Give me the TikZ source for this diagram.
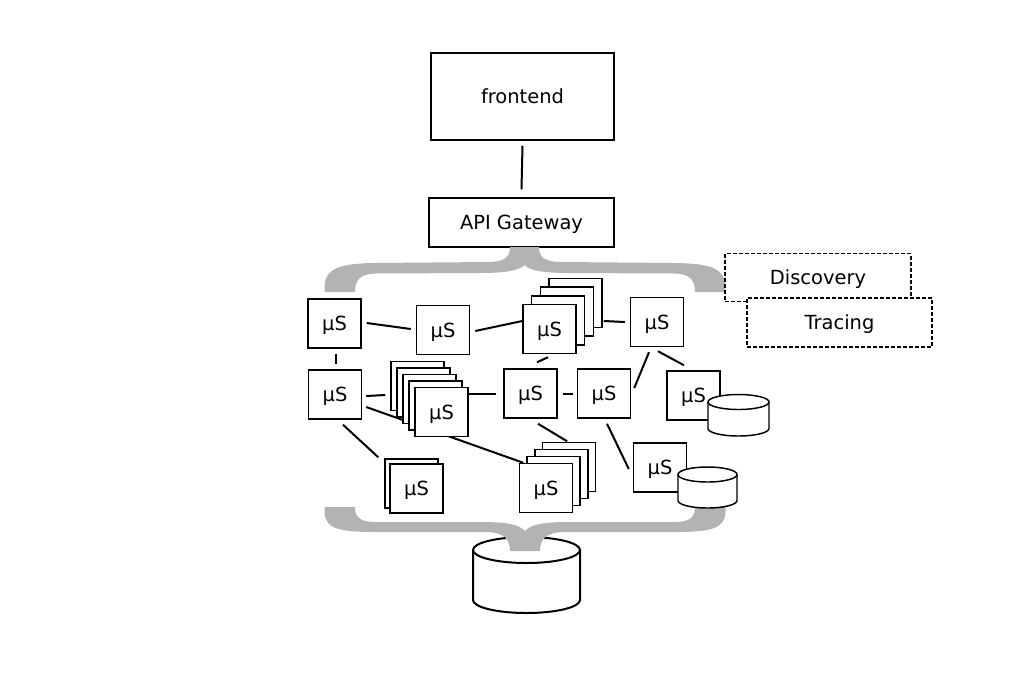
\documentclass[tikz,border=0pt]{standalone}
\usepackage{fontspec}
\setmainfont{DejaVu Sans}
\usetikzlibrary{calc}
\definecolor{bracegray}{RGB}{179,179,179}
\begin{document}
\begin{tikzpicture}[x=0.75pt,y=-0.75pt,
  txt/.style={font=\fontsize{14.6}{17}\selectfont},
  ms/.style={draw,fill=white,line width=1.1pt,minimum width=39.75pt,minimum height=36.75pt,inner sep=0pt,text depth=0pt,txt},
  bigbox/.style={draw,fill=white,line width=1.1pt,inner sep=0pt,text depth=0pt,txt},
  dbox/.style={draw,fill=white,line width=0.9pt,dash pattern=on 3pt off 1.5pt,inner sep=0pt,text depth=0pt,txt},
  conn/.style={line width=1.5pt},
  brace/.style={fill=bracegray,draw=none},
  cyl/.style={fill=white,draw,line width=1.1pt},
  bigcyl/.style={fill=white,draw,line width=1.5pt}]
\useasboundingbox (0,0) rectangle (1010,676);

% top
\node[bigbox,minimum width=137.25pt,minimum height=65.25pt] (fe) at (522.5,96.5) {frontend};
\node[bigbox,minimum width=138.75pt,minimum height=36.75pt] (gw) at (521.5,222.5) {API Gateway};
\draw[conn] ($(fe.south)+(0,5)$) -- ($(gw.north)+(0,-8)$);

% big database
\draw[bigcyl] (473,550) -- (473,600) arc[start angle=180,end angle=0,x radius=53.5,y radius=13] -- (580,550);
\draw[bigcyl] (526.5,550) ellipse [x radius=53.5,y radius=13];

% braces
\path[brace] (324.5,292) -- (324.5,287) .. controls (325,268) and (340,263.5) .. (375,263) -- (488,262)
  .. controls (505,262) and (510,257) .. (510,247) -- (539,247) .. controls (539,257) and (544,262) .. (562,262)
  -- (675,263) .. controls (710,263.5) and (725,268) .. (725.5,287) -- (725.5,292) -- (695,292)
  .. controls (695,280) and (690,274) .. (675,273.5) -- (570,273) .. controls (545,273) and (530,271) .. (524.5,265)
  .. controls (519,271) and (503,273) .. (480,273) -- (375,273.5) .. controls (360,274) and (355,280) .. (355,292) -- cycle;
\path[brace] (324.5,507) -- (324.5,512) .. controls (325,529) and (340,532) .. (375,532) -- (485,532)
  .. controls (505,532) and (510,540) .. (510,551) -- (540,551) .. controls (540,540) and (545,532) .. (565,532)
  -- (675,532) .. controls (710,532) and (725,529) .. (725.5,512) -- (725.5,507) -- (695,507)
  .. controls (695,517) and (690,522) .. (675,522) -- (570,522) .. controls (545,522) and (531,524) .. (525,531)
  .. controls (519,524) and (505,522) .. (480,522) -- (375,522) .. controls (360,522) and (355,517) .. (355,507) -- cycle;

% discovery / tracing
\node[dbox,minimum width=139.5pt,minimum height=36pt] (disc) at (818,277.5) {Discovery};
\node[dbox,minimum width=138.75pt,minimum height=36.75pt] (trac) at (839.5,322.5) {Tracing};

% single services
\node[ms] (A) at (334.5,323.5) {μS};
\node[ms] (B) at (443,330) {μS};
\node[ms] (D) at (657,322) {μS};
\node[ms] (E) at (335,394.5) {μS};
\node[ms] (G) at (530.5,393.5) {μS};
\node[ms] (H) at (604,393.5) {μS};
\node[ms] (I) at (693.5,395.5) {μS};
\node[ms] (L) at (660,467.5) {μS};

% stack C
\node[ms] (C3) at (575.6,302.9) {};
\node[ms] (C2) at (566.9,311.6) {};
\node[ms] (C1) at (558.2,320.3) {};
\node[ms] (C) at (549.5,329) {μS};

% stack J
\node[ms] (J1) at (411.5,483.5) {};
\node[ms] (J) at (416.5,488.5) {μS};

% stack K
\node[ms] (K3) at (569.1,467) {};
\node[ms] (K2) at (561.4,474) {};
\node[ms] (K1) at (553.7,481) {};
\node[ms] (K) at (546,488) {μS};

% connector passing behind stack F
\draw[conn] ($(E.east)+(4,12.5)$) -- ($(K.north west)+(4.5,0)$);

% stack F
\node[ms] (F4) at (417.5,386) {};
\node[ms] (F3) at (423.5,392.5) {};
\node[ms] (F2) at (429.5,399) {};
\node[ms] (F1) at (435.5,405.5) {};
\node[ms] (F) at (441.5,412) {μS};

% connectors
\draw[conn] ($(A.east)+(5,-0.5)$) -- ($(B.west)+(-5,-1)$);
\draw[conn] ($(B.east)+(5,1)$) -- ($(C.west)+(0,-8)$);
\draw[conn] ($(C.east)+(27,-8)$) -- ($(D.west)+(-5,0)$);
\draw[conn] ($(A.south)+(1.5,5)$) -- ($(E.north)+(1,-5)$);
\draw[conn] ($(E.east)+(4,1.5)$) -- ($(F4.west)+(-5,9)$);
\draw[conn] ($(F.east)+(0,-18)$) -- ($(G.west)+(-7,0.5)$);
\draw[conn] ($(G.east)+(5,0)$) -- ($(H.west)+(-4,0)$);
\draw[conn] ($(C.south)+(-1.5,3)$) -- ($(G.north)+(6.5,-6)$);
\draw[conn] ($(H.east)+(3,-5.5)$) -- ($(D.south)+(-8,5)$);
\draw[conn] ($(D.south)+(1,4)$) -- ($(I.north)+(-9.5,-5)$);
\draw[conn] ($(E.south)+(8,5)$) -- ($(J1.north west)+(-6,-1)$);
\draw[conn] ($(G.south)+(7.5,5)$) -- ($(K3.north)+(-2,-0.5)$);
\draw[conn] ($(H.south)+(3,5)$) -- ($(L.west)+(-4,1.5)$);

% small databases
\draw[cyl] (708,402) -- (708,428.5) arc[start angle=180,end angle=0,x radius=30.5,y radius=7.5] -- (769,402);
\draw[cyl] (738.5,402) ellipse [x radius=30.5,y radius=7.5];
\draw[cyl] (678,474.5) -- (678,500.5) arc[start angle=180,end angle=0,x radius=29.5,y radius=7.5] -- (737,474.5);
\draw[cyl] (707.5,474.5) ellipse [x radius=29.5,y radius=7.5];
\end{tikzpicture}
\end{document}
